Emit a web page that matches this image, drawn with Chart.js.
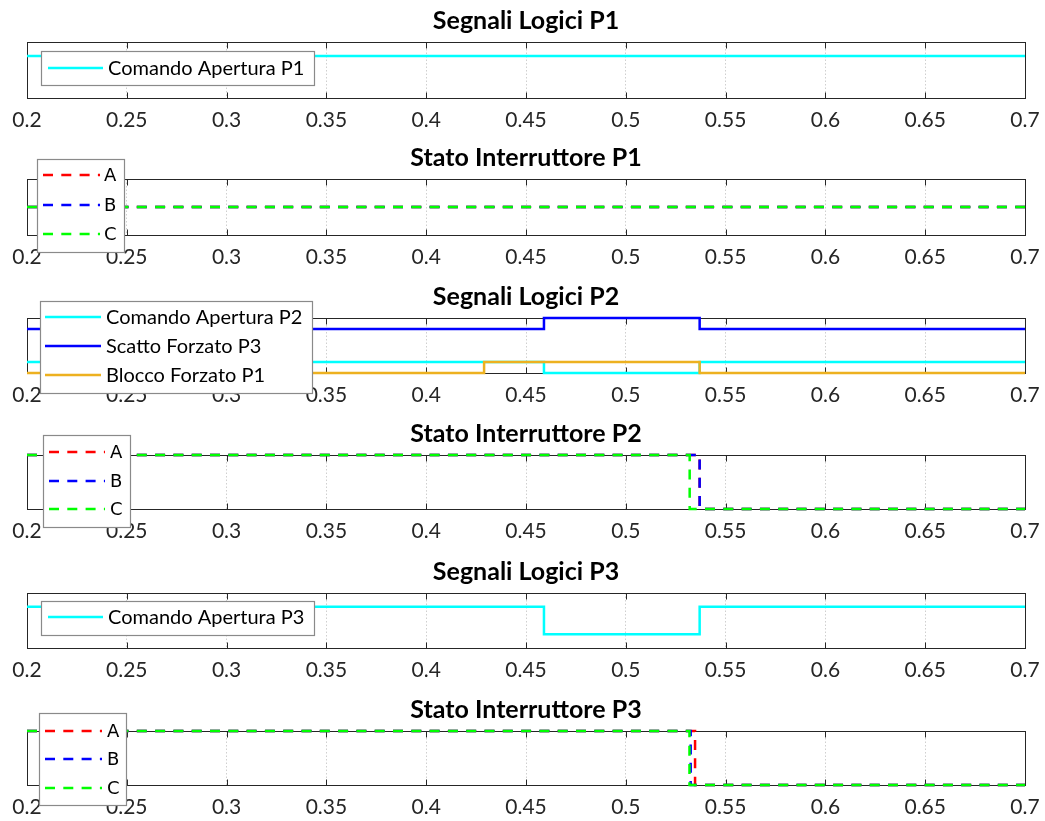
<!DOCTYPE html>
<html>
<head>
<meta charset="utf-8">
<script src="https://cdn.jsdelivr.net/npm/chart.js@4"></script>
<style>
  html, body { margin: 0; padding: 0; background: #fff; }
  #fig { position: relative; width: 1045px; height: 821px; overflow: hidden; }
  #fig canvas { position: absolute; left: 0; }
</style>
</head>
<body>
<div id="fig"></div>
<script>
// Shared time axis (s)
const xTicks = [0.2, 0.25, 0.3, 0.35, 0.4, 0.45, 0.5, 0.55, 0.6, 0.65, 0.7];
const xTickLabels = ['0.2', '0.25', '0.3', '0.35', '0.4', '0.45', '0.5', '0.55', '0.6', '0.65', '0.7'];

// Segnali Logici P1
const tCmdP1 = [0.2, 0.7];
const vCmdP1 = [1, 1];

// Stato Interruttore P1 (phases A, B, C)
const tBrkP1 = [0.2, 0.7];
const vBrkP1A = [1, 1];
const vBrkP1B = [1, 1];
const vBrkP1C = [1, 1];

// Segnali Logici P2
const tCmdP2 = [0.2, 0.459, 0.537, 0.7];
const vCmdP2 = [1, 0, 1, 1];
const tTripP3 = [0.2, 0.459, 0.537, 0.7];
const vTripP3 = [4, 5, 4, 4];
const tBlockP1 = [0.2, 0.429, 0.537, 0.7];
const vBlockP1 = [0, 1, 0, 0];

// Stato Interruttore P2
const tBrkP2A = [0.2, 0.537, 0.7];
const tBrkP2B = [0.2, 0.537, 0.7];
const tBrkP2C = [0.2, 0.532, 0.7];
const vBrkP2A = [1, 0, 0];
const vBrkP2B = [1, 0, 0];
const vBrkP2C = [1, 0, 0];

// Segnali Logici P3
const tCmdP3 = [0.2, 0.459, 0.537, 0.7];
const vCmdP3 = [1, 0, 1, 1];

// Stato Interruttore P3
const tBrkP3A = [0.2, 0.5347, 0.7];
const tBrkP3B = [0.2, 0.5325, 0.7];
const tBrkP3C = [0.2, 0.5319, 0.7];
const vBrkP3A = [1, 0, 0];
const vBrkP3B = [1, 0, 0];
const vBrkP3C = [1, 0, 0];

const CYAN = '#00ffff', BLUE = '#0000ff', ORANGE = '#edb120', RED = '#ff0000', GREEN = '#00ff00';
const DASH = [10, 8.3];
const TEXT_FONT = 'Lato, "Open Sans", sans-serif';
const ABC_FONT = '18px "DejaVu Sans", sans-serif';

function pts(t, v) { return t.map((x, i) => ({ x: x, y: v[i] })); }
function solid(label, color, t, v) {
  return { label, data: pts(t, v), borderColor: color, borderWidth: 2.5, borderDash: [] };
}
function dashed(label, color, t, v) {
  return { label, data: pts(t, v), borderColor: color, borderWidth: 2.5, borderDash: DASH };
}

const panels = [
  {
    title: 'Segnali Logici P1', top: 42, bottom: 98, yMin: -0.5, yMax: 1.5,
    datasets: [solid('Comando Apertura P1', CYAN, tCmdP1, vCmdP1)],
    legend: { box: [41, 51, 314, 85], rows: [68], line: [48, 103], textX: 108, font: '20px ' + TEXT_FONT }
  },
  {
    title: 'Stato Interruttore P1', top: 179, bottom: 235, yMin: 0, yMax: 2,
    datasets: [dashed('A', RED, tBrkP1, vBrkP1A), dashed('B', BLUE, tBrkP1, vBrkP1B), dashed('C', GREEN, tBrkP1, vBrkP1C)],
    legend: { box: [37, 159, 124, 252], rows: [175, 205, 234], line: [43, 100], textX: 104, font: ABC_FONT }
  },
  {
    title: 'Segnali Logici P2', top: 318, bottom: 373, yMin: 0, yMax: 5,
    datasets: [solid('Comando Apertura P2', CYAN, tCmdP2, vCmdP2), solid('Scatto Forzato P3', BLUE, tTripP3, vTripP3), solid('Blocco Forzato P1', ORANGE, tBlockP1, vBlockP1)],
    legend: { box: [40, 301, 312, 393], rows: [317, 346, 375], line: [45, 101], textX: 106, font: '20px ' + TEXT_FONT }
  },
  {
    title: 'Stato Interruttore P2', top: 455, bottom: 509, yMin: 0, yMax: 1,
    datasets: [dashed('A', RED, tBrkP2A, vBrkP2A), dashed('B', BLUE, tBrkP2B, vBrkP2B), dashed('C', GREEN, tBrkP2C, vBrkP2C)],
    legend: { box: [43, 435, 130, 527], rows: [452, 481, 509], line: [49, 105], textX: 110, font: ABC_FONT }
  },
  {
    title: 'Segnali Logici P3', top: 593, bottom: 648, yMin: -0.5, yMax: 1.5,
    datasets: [solid('Comando Apertura P3', CYAN, tCmdP3, vCmdP3)],
    legend: { box: [41, 601, 314, 635], rows: [617], line: [48, 103], textX: 108, font: '20px ' + TEXT_FONT }
  },
  {
    title: 'Stato Interruttore P3', top: 731, bottom: 785, yMin: 0, yMax: 1,
    datasets: [dashed('A', RED, tBrkP3A, vBrkP3A), dashed('B', BLUE, tBrkP3B, vBrkP3B), dashed('C', GREEN, tBrkP3C, vBrkP3C)],
    legend: { box: [39, 713, 126, 805], rows: [731, 759, 788], line: [45, 102], textX: 107, font: ABC_FONT }
  }
];

const TITLE_H = 36;   // title band above each axes box
const AXIS_H = 38;    // tick label band below each axes box
const TITLE_SIZE = 25;

// Axes box plus inward tick marks on the lower and upper edges
const framePlugin = {
  id: 'frame',
  beforeDatasetsDraw(chart) {
    const { ctx, chartArea: a } = chart;
    const x = chart.scales.x;
    const l = Math.round(a.left) + 0.5, r = Math.round(a.right) + 0.5;
    const t = Math.round(a.top) + 0.5, b = Math.round(a.bottom) + 0.5;
    ctx.save();
    ctx.strokeStyle = '#262626';
    ctx.lineWidth = 1;
    ctx.beginPath();
    x.ticks.forEach(tk => {
      const px = Math.round(x.getPixelForValue(tk.value)) + 0.5;
      ctx.moveTo(px, t); ctx.lineTo(px, t + 6);
      ctx.moveTo(px, b); ctx.lineTo(px, b - 6);
    });
    ctx.stroke();
    ctx.strokeRect(l, t, r - l, b - t);
    ctx.restore();
  }
};

function makeLegendPlugin(panel, canvasTop) {
  const L = panel.legend;
  return {
    id: 'boxLegend',
    afterDraw(chart) {
      const ctx = chart.ctx;
      const [x1, y1, x2, y2] = L.box;
      ctx.save();
      ctx.fillStyle = '#ffffff';
      ctx.fillRect(x1, y1 - canvasTop, x2 - x1, y2 - y1);
      ctx.strokeStyle = '#8a8a8a';
      ctx.lineWidth = 1.2;
      ctx.strokeRect(x1 + 0.5, y1 - canvasTop + 0.5, x2 - x1, y2 - y1);
      ctx.font = L.font;
      ctx.textBaseline = 'middle';
      chart.data.datasets.forEach((ds, i) => {
        const y = L.rows[i] - canvasTop;
        ctx.strokeStyle = ds.borderColor;
        ctx.lineWidth = ds.borderWidth;
        ctx.setLineDash(ds.borderDash || []);
        ctx.beginPath();
        ctx.moveTo(L.line[0], y);
        ctx.lineTo(L.line[1], y);
        ctx.stroke();
        ctx.setLineDash([]);
        ctx.fillStyle = '#000000';
        ctx.fillText(ds.label, L.textX, y + 1);
      });
      ctx.restore();
    }
  };
}

const fig = document.getElementById('fig');

panels.forEach(p => {
  const canvasTop = p.top - TITLE_H;
  const h = (p.bottom - p.top) + TITLE_H + AXIS_H;
  const cv = document.createElement('canvas');
  cv.width = 1045;
  cv.height = h;
  cv.style.top = canvasTop + 'px';
  cv.style.width = '1045px';
  cv.style.height = h + 'px';
  fig.appendChild(cv);

  const n = p.datasets.length;
  new Chart(cv, {
    type: 'line',
    data: {
      // later series are painted over earlier ones
      datasets: p.datasets.map((d, i) => Object.assign({
        order: n - 1 - i,
        pointRadius: 0,
        pointHoverRadius: 0,
        stepped: true,
        fill: false,
        tension: 0,
        clip: false,
        borderCapStyle: 'butt',
        borderJoinStyle: 'miter'
      }, d))
    },
    options: {
      responsive: false,
      animation: false,
      devicePixelRatio: 1,
      events: [],
      layout: { padding: { left: 27, right: 20, top: 0, bottom: 0 } },
      plugins: {
        legend: { display: false },
        tooltip: { enabled: false },
        title: {
          display: true,
          text: p.title,
          color: '#000000',
          font: { family: TEXT_FONT, size: TITLE_SIZE, weight: 'bold', lineHeight: 1.2 },
          padding: { top: 0, bottom: TITLE_H - TITLE_SIZE * 1.2 }
        }
      },
      scales: {
        x: {
          type: 'linear',
          min: 0.2,
          max: 0.7,
          afterBuildTicks: s => { s.ticks = xTicks.map(v => ({ value: v })); },
          // fixed band height; the end labels may overhang the axes box
          afterFit: s => { s.height = AXIS_H; s.paddingLeft = 0; s.paddingRight = 0; },
          ticks: {
            autoSkip: false,
            maxRotation: 0,
            padding: 10,
            color: '#262626',
            font: { family: TEXT_FONT, size: 21 },
            callback: (v, i) => xTickLabels[i]
          },
          grid: {
            color: '#cfcfcf',
            lineWidth: 1,
            drawTicks: false
          },
          border: { display: false, dash: [1.5, 2] }
        },
        y: {
          display: false,
          min: p.yMin,
          max: p.yMax
        }
      }
    },
    plugins: [framePlugin, makeLegendPlugin(p, canvasTop)]
  });
});
</script>
</body>
</html>
